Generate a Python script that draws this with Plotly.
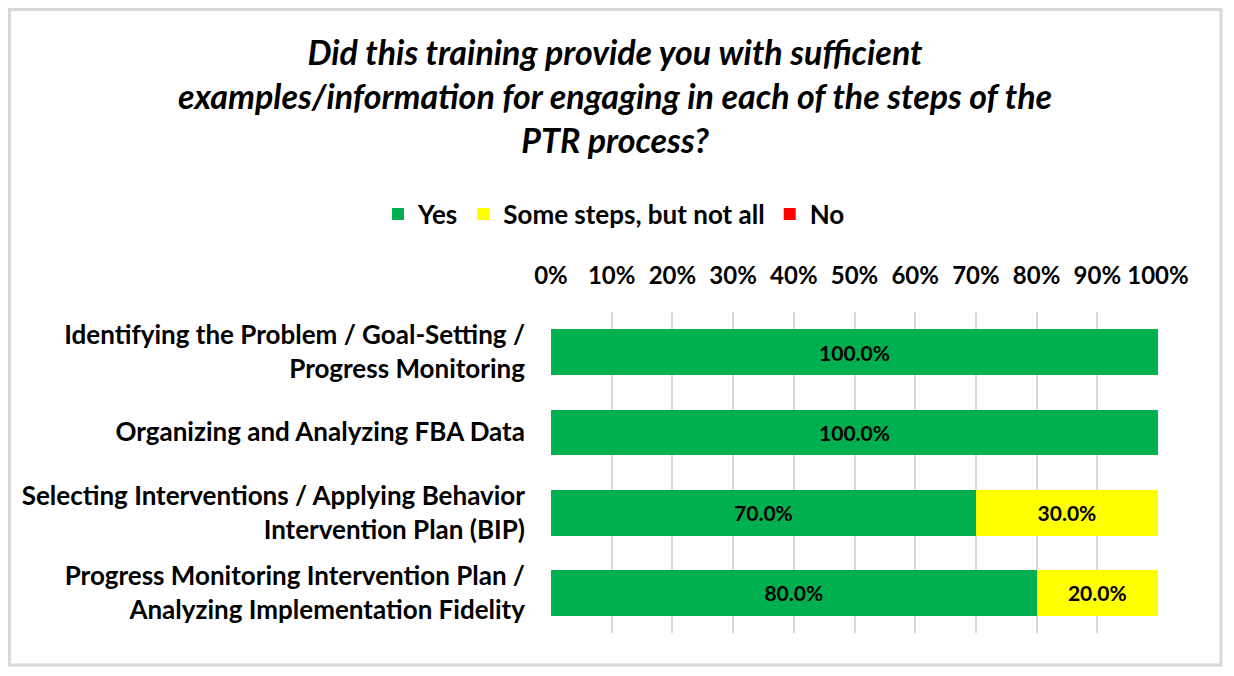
import plotly.graph_objects as go

categories = [
    "Identifying the Problem / Goal-Setting /<br>Progress Monitoring",
    "Organizing and Analyzing FBA Data",
    "Selecting Interventions / Applying Behavior<br>Intervention Plan (BIP)",
    "Progress Monitoring Intervention Plan /<br>Analyzing Implementation Fidelity",
]
yes = [100.0, 100.0, 70.0, 80.0]
some = [0.0, 0.0, 30.0, 20.0]
no = [0.0, 0.0, 0.0, 0.0]
tick_vals = [0, 10, 20, 30, 40, 50, 60, 70, 80, 90, 100]

series = [("Yes", yes, "#00B050"), ("Some steps, but not all", some, "#FFFF00"), ("No", no, "#FF0000")]

FONT = "Lato"
W, H = 1226, 668
L, R, T, B = 543, 76, 304, 43
PW, PH = W - L - R, H - T - B

fig = go.Figure()
for name, vals, col in series:
    fig.add_trace(go.Bar(
        y=categories, x=vals, name=name, orientation="h",
        marker=dict(color=col, line=dict(width=0)),
        text=[f"{v:.1f}%" if v > 0 else "" for v in vals],
        textposition="inside", insidetextanchor="middle",
        textfont=dict(family=FONT, size=21, color="black", weight="bold"),
        hoverinfo="skip",
    ))

fig.update_layout(
    barmode="stack", bargap=0.43,
    width=W, height=H,
    margin=dict(l=L, r=R, t=T, b=B),
    paper_bgcolor="white", plot_bgcolor="white",
    font=dict(family=FONT, color="black"),
    title=dict(
        text="<b><i>Did this training provide you with sufficient<br>examples/information for engaging in each of the steps of the<br>PTR process?</i></b>",
        x=607 / W, xref="container", xanchor="center",
        y=1 - 57 / H, yref="container", yanchor="middle",
        font=dict(family=FONT, size=34, color="black"),
    ),
    legend=dict(
        orientation="h", xref="container", yref="container",
        x=606 / W, xanchor="center", y=1 - 206 / H, yanchor="middle",
        font=dict(family=FONT, size=26, color="black", weight="bold"),
        traceorder="normal", itemwidth=30,
    ),
    uniformtext=dict(minsize=10, mode="show"),
)
fig.update_xaxes(
    side="top", range=[0, 100], tickvals=tick_vals,
    ticktext=[f"{v}%" for v in tick_vals],
    showgrid=True, gridcolor="#D9D9D9", gridwidth=2,
    zeroline=False, showline=False, ticks="",
    ticklabelstandoff=22,
    tickfont=dict(family=FONT, size=24, color="black", weight="bold"),
    fixedrange=True,
)
fig.update_yaxes(
    autorange="reversed", showgrid=False, showline=False, ticks="",
    ticklabelstandoff=25,
    tickfont=dict(family=FONT, size=26, color="black", weight="bold"),
    fixedrange=True,
)
fig.add_shape(type="rect", xref="paper", yref="paper",
              x0=(1.5 - L) / PW, x1=(1213 - L) / PW,
              y0=(T + PH - 657) / PH, y1=(T + PH - 1.5) / PH,
              line=dict(color="#D9D9D9", width=3), fillcolor="rgba(0,0,0,0)")

fig.write_html("out.html")
